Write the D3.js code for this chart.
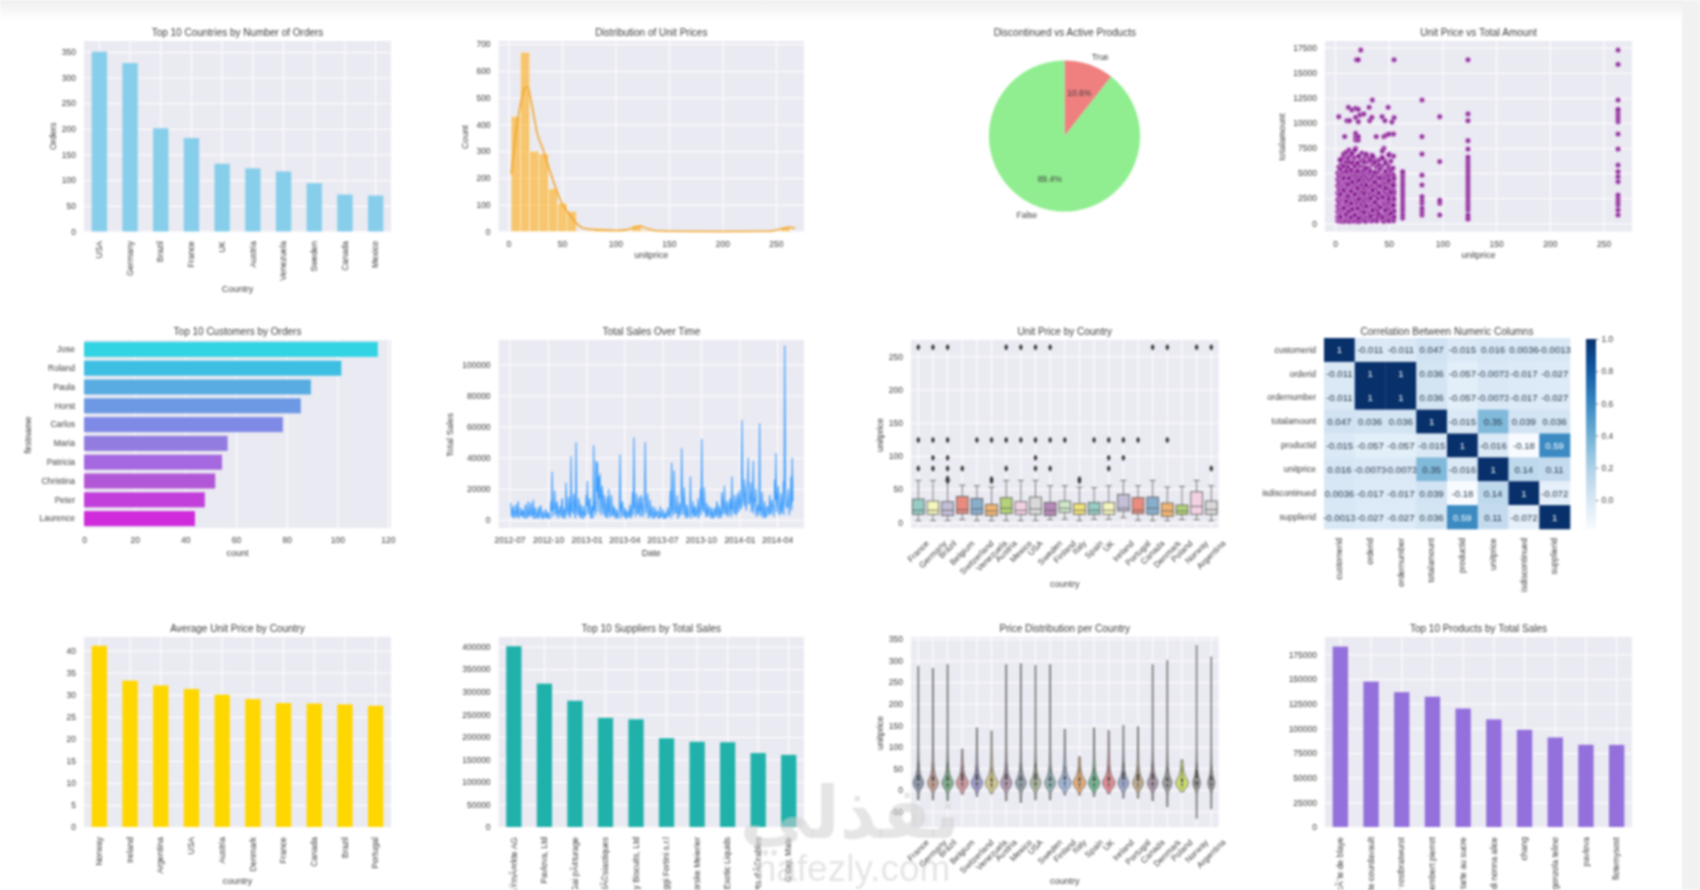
<!DOCTYPE html>
<html><head><meta charset="utf-8">
<script src="https://cdn.jsdelivr.net/npm/d3@7/dist/d3.min.js"></script>
<style>
html,body{margin:0;padding:0;background:#fff;overflow:hidden}
svg{display:block;filter:blur(.8px)}
text{font-family:"Liberation Sans",Arial,sans-serif;fill:#3c3c3c}
.domain{display:none}
</style></head><body><svg id="c" width="1700" height="890"></svg>
<script>
// ---------- data ----------
const orderCountries=["USA","Germany","Brazil","France","UK","Austria","Venezuela","Sweden","Canada","Mexico"];
const orderCounts=[350,328,201,182,132,123,117,94,72,70];
const histStart=2.5, histBinWidth=8.7;
const histCounts=[430,670,300,290,160,105,75,1,3,10,6,1,1,22,4,0,0,0,0,0,0,0,0,0,0,0,0,0,0,15];
const kdePrices=[2.5,5,8,12,15,18,22,27,32,38,44,50,57,65,72,82,90,100,110,118,123,130,138,150,200,245,255,262,268];
const kdeCounts=[215,300,400,490,535,540,470,365,310,235,165,105,65,25,10,7,5,4,6,16,20,10,3,1,0,1,10,16,12];
const pieLabels=["True","False"];
const pieValues=[10.6,89.4];
const pieColors=["#F08080","#90EE90"];
const scatterGroups=[
[2.5,[260,640,1180,1710,2350,3020,3760,4380,5010]],
[3.5,[420,960,1530,2140,2800,3440,4120,4760,5600,10630]],
[4.5,[230,820,1340,1900,2560,3210,3900,4620,6350]],
[6,[350,1020,1620,2280,2990,3640,4280,4950,5850,6420]],
[7,[180,700,1260,1840,2500,3120,3800,4500,5200]],
[7.75,[480,1090,1680,2320,3010,3690,4350,5020,6600]],
[9,[290,880,1450,2060,2710,3370,4080,4780,5500,8640]],
[9.5,[610,1190,1790,2420,3080,3740,4430,6150]],
[10,[210,760,1360,1990,2630,3290,3960,4640,5320,6900]],
[11.1,[520,1110,1740,2390,3050,3710,4470,5060,5900,10230]],
[12.5,[330,930,1510,2170,2830,3490,4190,4870,6300,11560]],
[13.6,[170,740,1300,1920,2580,3230,3880,4590,5450,6700,10230]],
[14,[580,1170,1770,2440,3100,3780,4500,5090]],
[15.7,[270,860,1440,2050,2720,3390,4060,4740,5950,7000,11300]],
[17,[450,1030,1640,2290,2950,3610,4310,4970,6200]],
[18,[200,790,1380,2010,2660,3310,4000,4680,5380,6550]],
[19.2,[550,1140,1730,2370,3040,3720,4410,5100,5800,7470,8300,8640,8970,10560,11460]],
[20,[300,900,1490,2110,2760,3420,4110,4800,6000,16300]],
[21.7,[160,720,1320,1950,2610,3260,3930,4610,5300,6650,8300,8640,10130,11360,16300]],
[23.2,[500,1080,1690,2340,2990,3660,4370,5040,5700,10800]],
[24,[250,840,1420,2030,2690,3350,4040,4730,6250,17270]],
[25,[620,1210,1810,2460,3120,3800,4520,5150,7000]],
[26.8,[340,950,1540,2190,2850,3510,4210,4890,5600,6400,10900]],
[28.5,[190,780,1370,2000,2650,3300,3990,4670,5350,6700]],
[30,[560,1150,1750,2400,3060,3730,4440,5050,6100]],
[31.8,[280,870,1460,2080,2730,3400,4090,4770,5500,6550,11560]],
[32.3,[430,1010,1630,2270,2940,3600,4300,4960,10230]],
[34.3,[220,810,1400,2020,2680,3340,4030,4720,6300,6800,10560]],
[34.8,[590,1180,1780,2430,3090,3770,4490,12290]],
[36,[310,890,1480,2100,2750,3410,4100,4790,6500]],
[38.4,[460,1040,1650,2300,2960,3620,4320,4980,5650,8640]],
[39,[240,830,1410,2040,2700,3360,4050,4740,6100]],
[40,[600,1200,1800,2450,3110,3790,4510,5120]],
[43.9,[320,910,1500,2120,2770,3430,4130,4810,5700,6600,10630]],
[45.5,[180,770,1350,1980,2640,3280,3970,4650,7470,8640]],
[46.5,[570,1160,1760,2410,3070,3750,4460,5030,6250,10230]],
[48,[290,880,1470,2090,2740,3380,4070,4750,8800]],
[49.5,[440,1020,1620,2260,2930,3590,4290,4950,5750,11560]],
[50.5,[230,820,1390,2010,2670,3330,4020,4710,6900,8900]],
[53,[540,1130,1720,2360,3030,3700,4400,5000,10100]],
[54.5,[260,850,1430,2070,2720,3370,4060,4780,6700,8900]],
[55,[610,1190,1790,2420,3080,3760,4480,10530,16300]],
[63,[520,860,1240,1560,1900,2240,2580,2900,3240,3580,3900,4240,4580,4900,5150]],
[81,[830,1160,1500,2000,2320,2660,3820,4800,6900,8640,12290]],
[97.5,[830,2000,2300,6150,10630]],
[123.8,[400,520,830,1330,1660,2000,2320,2660,2990,3320,3650,3990,4320,4650,5000,5320,5650,5980,6300,6600,7400,8240,10230,10900,16300]],
[263.5,[830,1330,1830,2160,2490,2820,4150,4650,5150,5800,7400,8900,10130,10460,10800,11130,11360,12290,15840,17270]],
[5,[5400,6300,640,2900]],[8,[5700,6900,1500,3300,4500]],[10.5,[5200,6100,7100,900,2200]],[12,[6500,5600,2700,3900]],
[13,[7300,6100,1200,4500]],[15,[5300,6800,2000,3200,600]],[16,[7000,6000,4100,1400]],[18.5,[7300,5700,2900,800]],
[21,[6000,5200,3500,1500]],[22,[6700,4300,2400,500]],[27,[6100,5300,3000,1100]],[29,[6900,5500,3800,1700]],
[33,[6300,5200,2500,700]],[35,[5900,6700,3300,1300]],[37,[6100,5100,2100,4100]],[41,[5800,6300,3000,900]],
[42,[5400,3700,1600,4500]],[44,[6500,7200,2600,600]],[47,[6000,5200,3500,1300]],[50,[6800,5500,2400,4300]],
[52,[5300,6200,3100,1000]],[54,[5500,3800,1800]]
];
const customerNames=["Jose","Roland","Paula","Horst","Carlos","Maria","Patricia","Christina","Peter","Laurence"];
const customerOrders=[116,101.6,89.6,85.6,78.5,56.7,54.5,51.8,47.7,43.8];
const customerColors=["#32d4e4","#3cbfe2","#58ace2","#6d99e4","#7f89e6","#927ce0","#a568e0","#b257d8","#c23fdc","#d02bdc"];
const salesStartDate="2012-07-04";
const salesStepDays=3;
const salesThousands=[11,2,9,3,10,2,12,3,8,2,6,1,10,2,12,3,11,2,13,1,5,1,8,3,9,1,6,2,7,1,4,1,12,31,8,19,3,12,4,9,2,14,1,7,24,5,15,2,41,6,17,3,50,5,14,2,10,1,9,3,16,25,4,14,1,9,48,12,38,37,28,30,8,19,3,12,2,15,20,4,16,3,9,2,7,1,6,42,5,12,2,8,1,6,2,10,3,18,53,9,17,4,12,2,16,6,14,50,7,17,3,13,2,9,1,8,3,6,1,9,2,7,1,5,2,8,3,19,37,6,32,5,10,1,7,3,46,8,21,3,10,2,6,28,5,12,2,8,3,14,5,20,52,7,21,4,11,2,9,3,8,1,6,2,12,3,9,2,18,4,22,5,12,2,9,6,28,7,16,4,14,6,19,8,64,12,26,9,21,40,11,24,7,38,14,20,5,10,62,8,18,3,12,2,9,5,16,4,13,8,26,43,9,22,4,17,6,25,112,12,8,20,9,28,40];
const salesBetween=[3,7,1,5,2,8,1,4,3,6,2,9,1,4,2,7,3,6,1,8,2,5,1,9,2,4,1,3,2,5,1,3,6,2,8,4,10,1,6,3,12,2,7,1,9,3,11,2,6,4,13,1,8,3,10,2,6,1,5,2,9,4,13,2,8,1,6,3,18,5,14,3,22,6,16,2,9,1,7,2,11,3,7,1,5,2,8,1,10,3,6,1,5,2,7,1,9,3,8,2,12,4,15,3,10,2,13,4,11,1,7,2,6,1,4,2,5,1,3,2,4,1,3,1,6,2,5,1,9,3,12,4,16,2,11,5,17,3,10,1,8,2,7,1,5,3,9,2,6,1,8,3,12,5,9,2,7,4,6,1,5,2,8,3,10,1,6,2,13,4,9,3,11,5,14,2,8,4,12,3,17,5,13,7,24,9,18,6,22,10,15,5,19,4,12,2,8,3,6,2,9,1,5,2,8,3,11,4,9,2,13,5,18,3,9,4,13,3,24,8,14,3,10,6,12];
const salesTickDates=["2012-07-01","2012-10-01","2013-01-01","2013-04-01","2013-07-01","2013-10-01","2014-01-01","2014-04-01"];
const allCountries=["France","Germany","Brazil","Belgium","Switzerland","Venezuela","Austria","Mexico","USA","Sweden","Finland","Italy","Spain","UK","Ireland","Portugal","Canada","Denmark","Poland","Norway","Argentina"];
const boxQ1=[12,12,10,13,12,10,13,12,12,10,15,12,12,12,17,13,12,9,12,12,12];
const boxMedian=[18,18,18,19,20,17,21,18,20,18,21,18,18,18,21,18,21,17,17,24,19];
const boxQ3=[35,32,31,39,36,27,37,31,38,30,32,28,30,30,42,37,38,29,26,46,32];
const boxLow=[2.5,2.5,2.5,4,2.5,2.5,2.5,2.5,2.5,4,4.5,2.5,4.5,4.5,7,3,2.5,2.5,4,4,2.5];
const boxHigh=[63,63,63,56,55,53,63,63,63,55,55,53,52,55,63,55,63,53,54,63,55];
const boxOutliers=[[263.5,123.8,81],[263.5,123.8,97,81],[263.5,123.8,97,81,66,62],[81],[123.8],[123.8,65,62],[263.5,123.8,81],[263.5,123.8],[263.5,123.8,97,81],[263.5,123.8,81],[123.8],[65,62],[123.8],[123.8,97,81],[123.8,97],[123.8],[263.5],[263.5,123.8],[],[263.5],[263.5,81]];
const boxColors=["#96ccc3","#f5f5bd","#c2bfd6","#ea8b7f","#88aecb","#eeb573","#b4d378","#f2d2e2","#d9d9d9","#b688b7","#d0e7ca","#f0e27b","#96ccc3","#f5f5bd","#c2bfd6","#ea8b7f","#88aecb","#eeb573","#b4d378","#f2d2e2","#d9d9d9"];
const corrColumns=["customerid","orderid","ordernumber","totalamount","productid","unitprice","isdiscontinued","supplierid"];
const corrRows=[
[1,-0.011,-0.011,0.047,-0.015,0.016,0.0036,-0.0013],
[-0.011,1,1,0.036,-0.057,-0.0073,-0.017,-0.027],
[-0.011,1,1,0.036,-0.057,-0.0073,-0.017,-0.027],
[0.047,0.036,0.036,1,-0.015,0.35,0.039,0.036],
[-0.015,-0.057,-0.057,-0.015,1,-0.016,-0.18,0.59],
[0.016,-0.0073,-0.0073,0.35,-0.016,1,0.14,0.11],
[0.0036,-0.017,-0.017,0.039,-0.18,0.14,1,-0.072],
[-0.0013,-0.027,-0.027,0.036,0.59,0.11,-0.072,1]];
const avgCountries=["Norway","Ireland","Argentina","USA","Austria","Denmark","France","Canada","Brazil","Portugal"];
const avgPrices=[41.1,33.2,32.1,31.3,30,29,28.1,28,27.8,27.5];
const supplierNames=["Plutzer LebensmittelgroÃŸmÃ¤rkte AG","Pavlova, Ltd","Gai pÃ¢turage","Aux joyeux ecclÃ©siastiques","Specialty Biscuits, Ltd","Formaggi Fortini s.r.l","Norske Meierier","Exotic Liquids","ForÃªts d'Ã©rables","G'day, Mate"];
const supplierSales=[401000,318000,280000,242000,239000,197000,189000,188000,164000,160000];
const violinLow=[-23,-23,-25,-10,-15,-9,-25,-29,-23,-23,-12,-12,-15,-9,-19,-19,-25,-39,-4,-66,-44];
const violinHigh=[287,282,291,95,144,137,291,293,289,291,141,77,144,138,150,147,291,301,70,336,309];
const violinColors=["#8d9ab0","#c9a193","#7fb58f","#d49aa0","#9f9ccf","#d4cb8f","#b79bb5","#94a3ad","#aebba0","#8fb6b8","#a0b8dc","#e5ad78","#6fb98e","#e58b93","#9ca6cc","#c4ae8c","#ae98ae","#a3a3a3","#cfe06a","#9a9a9a","#a0a0a0"];
const violinWidths=[0.84,0.84,0.9,0.95,0.9,1,0.9,0.84,0.84,0.84,1,1,0.9,1,0.84,0.84,0.84,0.75,1,0.6,0.55];
const violinProfilePrices=[-70,-10,0,8,18,28,38,50,65,90,130,340];
const violinProfileDensity=[0.08,0.12,0.38,0.8,1,0.66,0.36,0.22,0.14,0.09,0.07,0.06];
const productNames=["cÃ´te de blaye","raclette courdavault","thÃ¼ringer rostbratwurst","camembert pierrot","tarte au sucre","gnocchi di nonna alice","chang","gorgonzola telino","pavlova","flotemysost"];
const productSales=[182800,147300,136600,132000,120000,109000,98500,90700,83300,83200];

// ---------- helpers ----------
const svg=d3.select("#c");
svg.append("defs").html('<linearGradient id="topfade" x1="0" y1="0" x2="0" y2="1"><stop offset="0" stop-color="#ececec"/><stop offset="1" stop-color="#fff"/></linearGradient>');
svg.append("rect").attr("x",-3).attr("y",-3).attr("width",1706).attr("height",23).attr("fill","url(#topfade)");
svg.append("rect").attr("x",1682).attr("y",-3).attr("width",21).attr("height",896).attr("fill","#f1f1f1");
const COL=[[84,391],[498.6,804],[911,1218.6],[1325,1632]];
const ROW=[[41,231.5],[340,528],[637,827]];
const TS=8.5;
function panel(c,r,title){
  const [x0,x1]=COL[c],[y0,y1]=ROW[r];
  const g=svg.append("g");
  g.append("rect").attr("x",x0).attr("y",y0).attr("width",x1-x0).attr("height",y1-y0).attr("fill","#EAEAF2");
  label(g,title,(x0+x1)/2,y0-5,10);
  return {g,x0,x1,y0,y1};
}
function label(g,t,x,y,size,rot){
  const e=g.append("text").text(t).attr("text-anchor","middle").attr("font-size",size||9);
  if(rot) e.attr("transform",`translate(${x},${y}) rotate(-90)`).attr("dominant-baseline","central");
  else e.attr("x",x).attr("y",y);
  return e;
}
function gridX(p,x,vals,fmt){
  const ax=d3.axisBottom(x).tickSize(-(p.y1-p.y0)).tickFormat("");
  if(vals) ax.tickValues(vals);
  p.g.append("g").attr("transform",`translate(0,${p.y1})`).call(ax).selectAll("line").attr("stroke","#fff").attr("stroke-width",1);
  const lab=d3.axisBottom(x).tickSize(0).tickPadding(9);
  if(vals) lab.tickValues(vals);
  if(fmt) lab.tickFormat(fmt);
  return p.g.append("g").attr("class","xl").attr("transform",`translate(0,${p.y1})`).call(lab);
}
function gridY(p,y,vals,fmt){
  const ax=d3.axisLeft(y).tickSize(-(p.x1-p.x0)).tickFormat("");
  if(vals) ax.tickValues(vals);
  p.g.append("g").attr("transform",`translate(${p.x0},0)`).call(ax).selectAll("line").attr("stroke","#fff").attr("stroke-width",1);
  const lab=d3.axisLeft(y).tickSize(0).tickPadding(8).tickFormat(fmt||(d=>String(d)));
  if(vals) lab.tickValues(vals);
  return p.g.append("g").attr("transform",`translate(${p.x0},0)`).call(lab);
}
function styleAxis(sel){sel.selectAll("text").attr("font-size",TS);sel.attr("font-family",null).attr("font-size",null);}
function vertLabels(sel,top){
  sel.selectAll("text").attr("font-size",TS).attr("text-anchor","end").attr("dy","0.32em").attr("y",0)
    .attr("transform",`translate(0,${top}) rotate(-90)`);
  sel.attr("font-size",null).attr("font-family",null);
}
function diagLabels(sel){
  sel.attr("font-size",null).attr("font-family",null);
  sel.selectAll("text").attr("font-size",TS).attr("y",0).attr("dy","0.32em").attr("text-anchor","middle")
    .attr("transform",function(){
      const l=this.getComputedTextLength();
      return `translate(0,${11+(l+TS)*0.707/2}) rotate(-45)`;
    });
}
function barChart(c,r,title,cats,vals,color,domTop,ticks,xLab,xLabY,yLab,yLabX,labelTop,fmt){
  const p=panel(c,r,title);
  const x=d3.scaleBand().domain(cats).range([p.x0,p.x1]).paddingInner(.5).paddingOuter(.25);
  const y=d3.scaleLinear().domain([0,domTop]).range([p.y1,p.y0]);
  const xa=gridX(p,x); styleAxis(gridY(p,y,ticks,fmt));
  p.g.append("g").selectAll("rect").data(vals).join("rect")
    .attr("x",(d,i)=>x(cats[i])).attr("width",x.bandwidth()).attr("y",d=>y(d)).attr("height",d=>p.y1-y(d)).attr("fill",color);
  vertLabels(xa,labelTop-p.y1);
  if(xLab) label(p.g,xLab,(p.x0+p.x1)/2,xLabY,9);
  if(yLab) label(p.g,yLab,yLabX,(p.y0+p.y1)/2,9,true);
}

// ---------- row 1 ----------
barChart(0,0,"Top 10 Countries by Number of Orders",orderCountries,orderCounts,"#87CEEB",371,d3.range(0,351,50),"Country",292,"Orders",52.6,241);

(function(){
  const p=panel(1,0,"Distribution of Unit Prices");
  const x=d3.scaleLinear().domain([-9.2,276.2]).range([p.x0,p.x1]);
  const y=d3.scaleLinear().domain([0,712]).range([p.y1,p.y0]);
  styleAxis(gridX(p,x,d3.range(0,251,50)));styleAxis(gridY(p,y,d3.range(0,701,100)));
  p.g.append("g").selectAll("rect").data(histCounts).join("rect")
    .attr("x",(d,i)=>x(histStart+i*histBinWidth)).attr("width",x(histBinWidth)-x(0))
    .attr("y",d=>y(d)).attr("height",d=>p.y1-y(d)).attr("fill","#ffa500").attr("fill-opacity",.55)
    .attr("stroke","#fff").attr("stroke-opacity",.7).attr("stroke-width",.6);
  const pts=kdePrices.map((k,i)=>[k,kdeCounts[i]]);
  p.g.append("path").datum(pts).attr("fill","none").attr("stroke","#f2a52a").attr("stroke-width",1.6)
    .attr("d",d3.line().x(d=>x(d[0])).y(d=>y(d[1])).curve(d3.curveMonotoneX));
  label(p.g,"unitprice",(p.x0+p.x1)/2,258,9);
  label(p.g,"Count",465,137,9,true);
})();

(function(){
  const g=svg.append("g");
  label(g,"Discontinued vs Active Products",1064.8,36,10);
  const cx=1064.5,cy=136,R=75.6;
  const arcs=d3.pie().sort(null)(pieValues);
  const arc=d3.arc().innerRadius(0).outerRadius(R);
  const pg=g.append("g").attr("transform",`translate(${cx},${cy})`);
  pg.selectAll("path").data(arcs).join("path").attr("d",arc).attr("fill",(d,i)=>pieColors[i]);
  arcs.forEach((a,i)=>{
    const m=(a.startAngle+a.endAngle)/2,s=Math.sin(m),c=Math.cos(m);
    pg.append("text").text(pieValues[i].toFixed(1)+"%").attr("x",s*R*.6).attr("y",-c*R*.6).attr("font-size",TS)
      .attr("text-anchor","middle").attr("dominant-baseline","central");
    pg.append("text").text(pieLabels[i]).attr("x",s*R*1.1).attr("y",-c*R*1.1).attr("font-size",TS)
      .attr("text-anchor",s>0?"start":"end").attr("dominant-baseline","central");
  });
})();

(function(){
  const p=panel(3,0,"Unit Price vs Total Amount");
  const x=d3.scaleLinear().domain([-9.3,276.5]).range([p.x0,p.x1]);
  const y=d3.scaleLinear().domain([-817,18170]).range([p.y1,p.y0]);
  styleAxis(gridX(p,x,d3.range(0,251,50)));styleAxis(gridY(p,y,d3.range(0,17501,2500)));
  const pts=scatterGroups.flatMap(([px,am])=>am.map(a=>[px,a]));
  p.g.append("g").selectAll("circle").data(pts).join("circle")
    .attr("cx",d=>x(d[0])).attr("cy",d=>y(d[1])).attr("r",2.6)
    .attr("fill","#7a0c85").attr("fill-opacity",.82).attr("stroke","#e9b8ee").attr("stroke-width",.6);
  label(p.g,"unitprice",(p.x0+p.x1)/2,258,9);
  label(p.g,"totalamount",1282,137,9,true);
})();

// ---------- row 2 ----------
(function(){
  const p=panel(0,1,"Top 10 Customers by Orders");
  const x=d3.scaleLinear().domain([0,121.2]).range([p.x0,p.x1]);
  const y=d3.scaleBand().domain(customerNames).range([p.y0,p.y1]).paddingInner(.2).paddingOuter(.1);
  styleAxis(gridX(p,x,d3.range(0,121,20)));
  const yl=d3.axisLeft(y).tickSize(0).tickPadding(9);
  const ya=p.g.append("g").attr("transform",`translate(${p.x0},0)`).call(yl);styleAxis(ya);
  p.g.append("g").selectAll("rect").data(customerOrders).join("rect")
    .attr("x",p.x0).attr("y",(d,i)=>y(customerNames[i])).attr("height",y.bandwidth()).attr("width",d=>x(d)-p.x0)
    .attr("fill",(d,i)=>customerColors[i]);
  label(p.g,"count",(p.x0+p.x1)/2,556,9);
  label(p.g,"firstname",28,435,9,true);
})();

(function(){
  const p=panel(1,1,"Total Sales Over Time");
  const x=d3.scaleUtc().domain([new Date("2012-06-05"),new Date("2014-06-04")]).range([p.x0,p.x1]);
  const y=d3.scaleLinear().domain([-5.14,115.6]).range([p.y1,p.y0]);
  const dates=salesTickDates.map(d=>new Date(d));
  styleAxis(gridX(p,x,dates,d3.utcFormat("%Y-%m")));
  styleAxis(gridY(p,y,d3.range(0,101,20),d=>String(d*1000)));
  const start=new Date(salesStartDate);
  const series=[];
  salesThousands.forEach((v,i)=>{
    series.push([i*salesStepDays,v]);
    if(i<salesBetween.length) series.push([i*salesStepDays+salesStepDays/2,salesBetween[i]]);
  });
  const tx=d=>x(new Date(+start+d*864e5));
  p.g.append("path").datum(series).attr("fill","none").attr("stroke","#1E90FF").attr("stroke-width",1.1).attr("stroke-opacity",.85)
    .attr("d",d3.line().x(d=>tx(d[0])).y(d=>y(d[1])));
  label(p.g,"Date",(p.x0+p.x1)/2,556,9);
  label(p.g,"Total Sales",450,435,9,true);
})();

(function(){
  const p=panel(2,1,"Unit Price by Country");
  const x=d3.scaleBand().domain(allCountries).range([p.x0,p.x1]).paddingInner(.2).paddingOuter(.1);
  const y=d3.scaleLinear().domain([-8.6,274.5]).range([p.y1,p.y0]);
  const xa=gridX(p,x);styleAxis(gridY(p,y,d3.range(0,251,50)));
  diagLabels(xa);
  const S="#555",W=.8;
  allCountries.forEach((c,i)=>{
    const l=x(c),b=x.bandwidth(),m=l+b/2,g=p.g.append("g");
    g.append("line").attr("x1",m).attr("x2",m).attr("y1",y(boxLow[i])).attr("y2",y(boxHigh[i])).attr("stroke",S).attr("stroke-width",W);
    [boxLow[i],boxHigh[i]].forEach(v=>g.append("line").attr("x1",m-3).attr("x2",m+3).attr("y1",y(v)).attr("y2",y(v)).attr("stroke",S).attr("stroke-width",W));
    g.append("rect").attr("x",l).attr("width",b).attr("y",y(boxQ3[i])).attr("height",y(boxQ1[i])-y(boxQ3[i])).attr("fill",boxColors[i]).attr("stroke",S).attr("stroke-width",W);
    g.append("line").attr("x1",l).attr("x2",l+b).attr("y1",y(boxMedian[i])).attr("y2",y(boxMedian[i])).attr("stroke",S).attr("stroke-width",W);
    const sym=d3.symbol().type(d3.symbolDiamond).size(14);
    g.selectAll("path").data(boxOutliers[i]).join("path").attr("d",sym).attr("transform",d=>`translate(${m},${y(d)})`).attr("fill","#333");
  });
  label(p.g,"country",(p.x0+p.x1)/2,587,9);
  label(p.g,"unitprice",880,435,9,true);
})();

(function(){
  const g=svg.append("g");
  const x0=1324,x1=1570,y0=338,y1=529;
  label(g,"Correlation Between Numeric Columns",(x0+x1)/2,335,10);
  const x=d3.scaleBand().domain(corrColumns).range([x0,x1]);
  const y=d3.scaleBand().domain(corrColumns).range([y0,y1]);
  const col=d3.scaleSequential(d3.interpolateBlues).domain([-0.18,1]);
  corrRows.forEach((row,r)=>row.forEach((v,c)=>{
    g.append("rect").attr("x",x(corrColumns[c])).attr("y",y(corrColumns[r])).attr("width",x.bandwidth()+.3).attr("height",y.bandwidth()+.3).attr("fill",col(v));
    g.append("text").text(String(v)).attr("x",x(corrColumns[c])+x.bandwidth()/2).attr("y",y(corrColumns[r])+y.bandwidth()/2)
      .attr("font-size",9.6).attr("text-anchor","middle").attr("dominant-baseline","central").style("fill",v>.5?"#fff":"#2a3a4a");
  }));
  const ya=g.append("g").attr("transform",`translate(${x0-8},0)`).call(d3.axisLeft(y).tickSize(0).tickPadding(0));styleAxis(ya);
  const xa=g.append("g").attr("transform",`translate(0,${y1})`).call(d3.axisBottom(x).tickSize(0));vertLabels(xa,9);
  const defs=svg.select("defs");
  const lg=defs.append("linearGradient").attr("id","cbar").attr("x1",0).attr("y1",1).attr("x2",0).attr("y2",0);
  d3.range(0,1.001,.1).forEach(t=>lg.append("stop").attr("offset",t).attr("stop-color",col(-0.18+t*1.18)));
  g.append("rect").attr("x",1586).attr("y",339).attr("width",10).attr("height",190).attr("fill","url(#cbar)");
  const cy=d3.scaleLinear().domain([-0.18,1]).range([529,339]);
  const ca=g.append("g").attr("transform","translate(1596,0)").call(d3.axisRight(cy).tickValues([0,.2,.4,.6,.8,1]).tickSize(2.5).tickPadding(3).tickFormat(d3.format(".1f")));
  styleAxis(ca);ca.selectAll("line").attr("stroke","#444").attr("stroke-width",.7);
})();

// ---------- row 3 ----------
barChart(0,2,"Average Unit Price by Country",avgCountries,avgPrices,"#FFD700",43.1,d3.range(0,41,5),"country",884,null,0,837);
barChart(1,2,"Top 10 Suppliers by Total Sales",supplierNames,supplierSales,"#20B2AA",421500,d3.range(0,400001,50000),null,0,null,0,837);

(function(){
  const p=panel(2,2,"Price Distribution per Country");
  const x=d3.scaleBand().domain(allCountries).range([p.x0,p.x1]);
  const y=d3.scaleLinear().domain([-85.8,354.7]).range([p.y1,p.y0]);
  const xa=gridX(p,x);styleAxis(gridY(p,y,d3.range(-50,351,50)));
  diagLabels(xa);
  const dens=d3.scaleLinear().domain(violinProfilePrices).range(violinProfileDensity);
  const MAXW=6.2;
  allCountries.forEach((c,i)=>{
    const m=x(c)+x.bandwidth()/2,lo=violinLow[i],hi=violinHigh[i];
    const pr=[lo].concat(violinProfilePrices.filter(v=>v>lo&&v<hi),[hi]);
    const w=MAXW*violinWidths[i];
    const area=d3.area().y(d=>y(d)).x0(d=>m-w*dens(d)).x1(d=>m+w*dens(d)).curve(d3.curveMonotoneY);
    p.g.append("path").datum(pr).attr("d",area).attr("fill",violinColors[i]).attr("stroke","#6a6a6a").attr("stroke-width",.9);
    p.g.append("line").attr("x1",m).attr("x2",m).attr("y1",y(boxLow[i])).attr("y2",y(boxHigh[i])).attr("stroke","#555").attr("stroke-width",.8);
    p.g.append("line").attr("x1",m).attr("x2",m).attr("y1",y(boxQ1[i])).attr("y2",y(boxQ3[i])).attr("stroke","#444").attr("stroke-width",2.2);
    p.g.append("circle").attr("cx",m).attr("cy",y(boxMedian[i])).attr("r",.9).attr("fill","#fff");
  });
  label(p.g,"country",(p.x0+p.x1)/2,884,9);
  label(p.g,"unitprice",880,733,9,true);
})();

barChart(3,2,"Top 10 Products by Total Sales",productNames,productSales,"#9370DB",192500,d3.range(0,175001,25000),null,0,null,0,837);

// ---------- watermark ----------
const wm=svg.append("g");
wm.append("text").text("نفذلي").attr("x",850).attr("y",838).attr("text-anchor","middle")
  .attr("font-size",72).attr("font-weight","bold").style("font-family","DejaVu Sans").style("fill","rgba(208,208,208,.55)");
wm.append("text").text("nafezly.com").attr("x",853).attr("y",881).attr("text-anchor","middle")
  .attr("font-size",37).style("font-family","Liberation Sans").style("fill","rgba(208,208,208,.55)");
</script></body></html>
